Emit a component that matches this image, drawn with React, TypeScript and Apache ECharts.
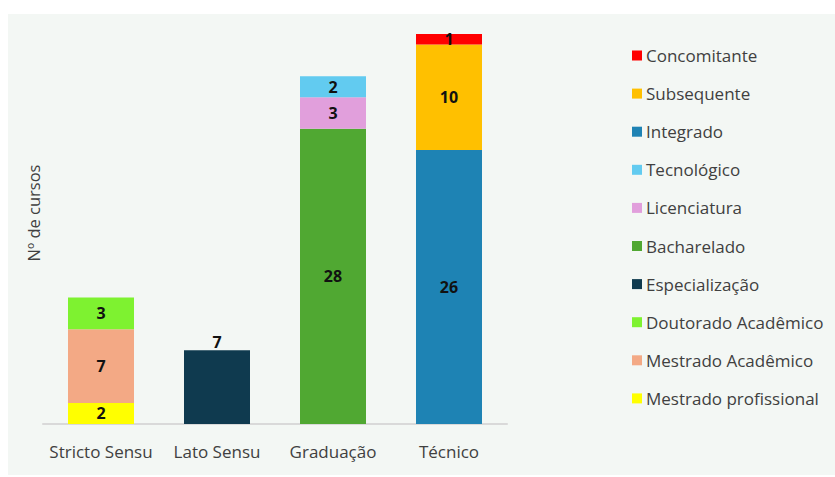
import React, { useEffect, useRef } from "react";
import * as echarts from "echarts";

const categories = ["Stricto Sensu", "Lato Sensu", "Graduação", "Técnico"];

const seriesNames = [
  "Mestrado profissional",
  "Mestrado Acadêmico",
  "Doutorado Acadêmico",
  "Especialização",
  "Bacharelado",
  "Licenciatura",
  "Tecnológico",
  "Integrado",
  "Subsequente",
  "Concomitante",
];

const seriesValues: (number | null)[][] = [
  [2, null, null, null],
  [7, null, null, null],
  [3, null, null, null],
  [null, 7, null, null],
  [null, null, 28, null],
  [null, null, 3, null],
  [null, null, 2, null],
  [null, null, null, 26],
  [null, null, null, 10],
  [null, null, null, 1],
];

const seriesColors = [
  "#ffff00",
  "#f3a985",
  "#7ef230",
  "#0f3a4f",
  "#50a832",
  "#e19fdc",
  "#62cbf0",
  "#1e83b4",
  "#ffc000",
  "#ff0000",
];

const FONT = "Open Sans";

export default function App() {
  const ref = useRef<HTMLDivElement>(null);
  useEffect(() => {
    document.body.style.margin = "0";
    const chart = echarts.init(ref.current!, null, { renderer: "svg" });
    const series = seriesNames.map((name, i) => ({
      name,
      type: "bar",
      stack: "total",
      barWidth: 66,
      data: seriesValues[i],
      itemStyle: { color: seriesColors[i] },
      label: {
        show: true,
        position: name === "Especialização" ? "top" : "inside",
        distance: 0,
        color: "#111",
        fontWeight: "bold",
        fontFamily: FONT,
        fontSize: 16,
      },
    }));
    chart.setOption({
      animation: false,
      backgroundColor: "#ffffff",
      graphic: [
        {
          type: "rect",
          silent: true,
          z: -10,
          shape: { x: 8, y: 14, width: 827, height: 461 },
          style: { fill: "#f3f7f4" },
        },
        {
          type: "text",
          x: 33,
          y: 213,
          rotation: Math.PI / 2,
          style: {
            text: "Nº de cursos",
            fontFamily: FONT,
            fontSize: 16.5,
            fill: "#404040",
            align: "center",
            verticalAlign: "middle",
          },
        },
      ],
      grid: { left: 43, right: 328, top: 34, bottom: 53 },
      xAxis: {
        type: "category",
        data: categories,
        axisLine: { lineStyle: { color: "#d9d9d9", width: 2 } },
        axisTick: { show: false },
        axisLabel: {
          interval: 0,
          color: "#404040",
          fontFamily: FONT,
          fontSize: 17,
          margin: 19,
        },
      },
      yAxis: {
        type: "value",
        min: 0,
        max: 37,
        show: false,
        splitLine: { show: false },
      },
      legend: {
        orient: "vertical",
        left: 627,
        top: 42,
        itemWidth: 10,
        itemHeight: 10,
        itemGap: 21.1,
        icon: "rect",
        data: [...seriesNames].reverse(),
        textStyle: {
          color: "#404040",
          fontFamily: FONT,
          fontSize: 17,
          lineHeight: 16,
          padding: [0, 0, 0, -1],
        },
      },
      series,
    });
    return () => chart.dispose();
  }, []);
  return <div ref={ref} style={{ width: 835, height: 477 }} />;
}
